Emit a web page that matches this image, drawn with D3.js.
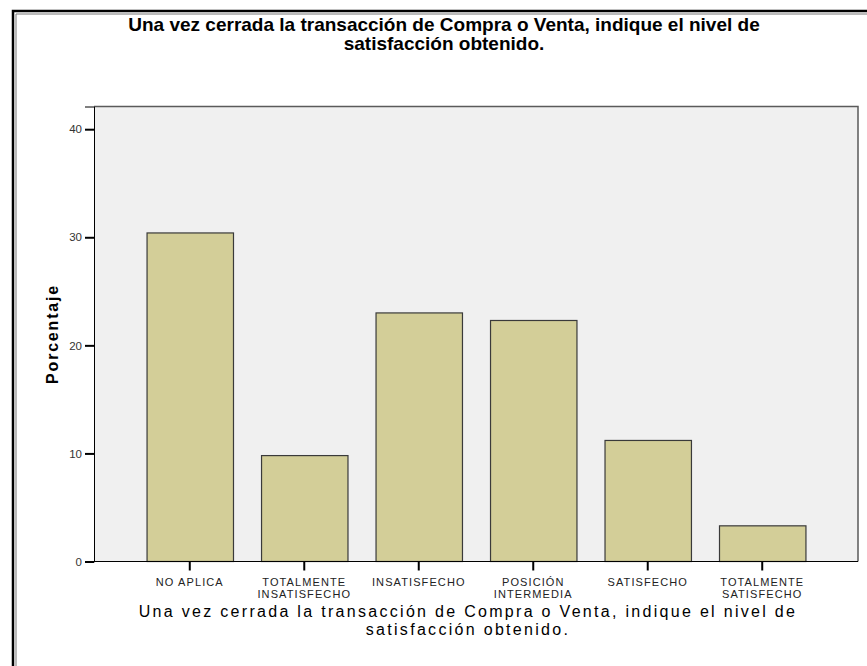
<!DOCTYPE html>
<html>
<head>
<meta charset="utf-8">
<script src="https://cdn.jsdelivr.net/npm/d3@7"></script>
<style>
  body { margin: 0; background: #fff; }
  svg { display: block; font-family: "Liberation Sans", Arial, sans-serif; }
</style>
</head>
<body>
<div id="chart"></div>
<script>
// data
const categories = ["NO APLICA", "TOTALMENTE INSATISFECHO", "INSATISFECHO",
                    "POSICIÓN INTERMEDIA", "SATISFECHO", "TOTALMENTE SATISFECHO"];
const labelLines = [["NO APLICA"], ["TOTALMENTE", "INSATISFECHO"], ["INSATISFECHO"],
                    ["POSICIÓN", "INTERMEDIA"], ["SATISFECHO"], ["TOTALMENTE", "SATISFECHO"]];
const percentages = [30.4, 9.8, 23.0, 22.3, 11.2, 3.3];
const yTicks = [0, 10, 20, 30, 40];
const titleLines = ["Una vez cerrada la transacción de Compra o Venta, indique el nivel de",
                    "satisfacción obtenido."];
const yTitle = "Porcentaje";

const W = 867, H = 666;
const plot = {x1: 94, y1: 106.5, x2: 858, y2: 561.5};

const svg = d3.select("#chart").append("svg")
  .attr("width", W).attr("height", H)
  .attr("viewBox", "0 0 " + W + " " + H);

// outer frame (runs off the right and bottom edge)
svg.append("rect")
  .attr("x", 13).attr("y", 11).attr("width", 900).attr("height", 700)
  .attr("fill", "none").attr("stroke", "#000").attr("stroke-width", 2.5);
svg.append("path")
  .attr("d", "M 16 " + (H + 5) + " L 16 14 L " + (W + 5) + " 14")
  .attr("fill", "none").attr("stroke", "#777").attr("stroke-width", 1);

const x = d3.scaleBand().domain(categories)
  .range([plot.x1, plot.x2]).paddingInner(0.245).paddingOuter(0.459);
const y = d3.scaleLinear().domain([0, 42.1]).range([plot.y2, plot.y1]);

// plot background
svg.append("rect")
  .attr("x", plot.x1).attr("y", plot.y1)
  .attr("width", plot.x2 - plot.x1).attr("height", plot.y2 - plot.y1)
  .attr("fill", "#f0f0f0");
svg.append("path")
  .attr("d", "M " + plot.x1 + " " + plot.y1 + " L " + plot.x2 + " " + plot.y1 + " L " + plot.x2 + " " + plot.y2)
  .attr("fill", "none").attr("stroke", "#5a5a5a").attr("stroke-width", 1.5);

// bars
svg.append("g").selectAll("rect")
  .data(percentages)
  .join("rect")
  .attr("x", (d, i) => x(categories[i]) + 0.5)
  .attr("y", d => y(d))
  .attr("width", x.bandwidth())
  .attr("height", d => y(0) - y(d))
  .attr("fill", "#d3ce98")
  .attr("stroke", "#3a3a3a")
  .attr("stroke-width", 1.2);

// y axis
const yAxis = d3.axisLeft(y).tickValues(yTicks).tickSize(9).tickPadding(3);
const gy = svg.append("g")
  .attr("transform", "translate(" + plot.x1 + ",0)")
  .call(yAxis);
gy.select(".domain").attr("stroke", "#000").attr("stroke-width", 1);
gy.selectAll(".tick line").attr("stroke", "#000").attr("stroke-width", 2);
gy.selectAll(".tick text").attr("fill", "#333").style("font-size", "11.5px");

// x axis
const xAxis = d3.axisBottom(x).tickSize(9).tickFormat("");
const gx = svg.append("g")
  .attr("transform", "translate(0," + plot.y2 + ")")
  .call(xAxis);
gx.select(".domain").attr("stroke", "#000").attr("stroke-width", 1.2)
  .attr("d", "M" + plot.x1 + ",0H" + plot.x2);
gx.selectAll(".tick line").attr("stroke", "#000").attr("stroke-width", 2);

gx.selectAll(".tick").each(function(d, i) {
  const t = d3.select(this).append("text")
    .attr("fill", "#222")
    .attr("text-anchor", "middle")
    .style("font-size", "11px")
    .style("letter-spacing", "1.1px");
  labelLines[i].forEach((line, k) => {
    t.append("tspan").attr("x", 0).attr("y", 24 + k * 12.5).text(line);
  });
});

// x title
const xt = svg.append("text")
  .attr("text-anchor", "middle")
  .attr("fill", "#000")
  .style("font-size", "16px")
  .style("letter-spacing", "2.3px");
xt.append("tspan").attr("x", 468).attr("y", 617).text(titleLines[0]);
xt.append("tspan").attr("x", 468).attr("y", 635).text(titleLines[1]);

// y title
svg.append("text")
  .attr("transform", "translate(58," + ((plot.y1 + plot.y2) / 2) + ") rotate(-90)")
  .attr("text-anchor", "middle")
  .attr("fill", "#000")
  .style("font-size", "16px")
  .style("font-weight", "bold")
  .style("letter-spacing", "1.8px")
  .text(yTitle);

// chart title
const tt = svg.append("text")
  .attr("text-anchor", "middle")
  .attr("fill", "#000")
  .style("font-size", "19px")
  .style("font-weight", "bold");
tt.append("tspan").attr("x", 444).attr("y", 31).text(titleLines[0]);
tt.append("tspan").attr("x", 444).attr("y", 50).text(titleLines[1]);
</script>
</body>
</html>
